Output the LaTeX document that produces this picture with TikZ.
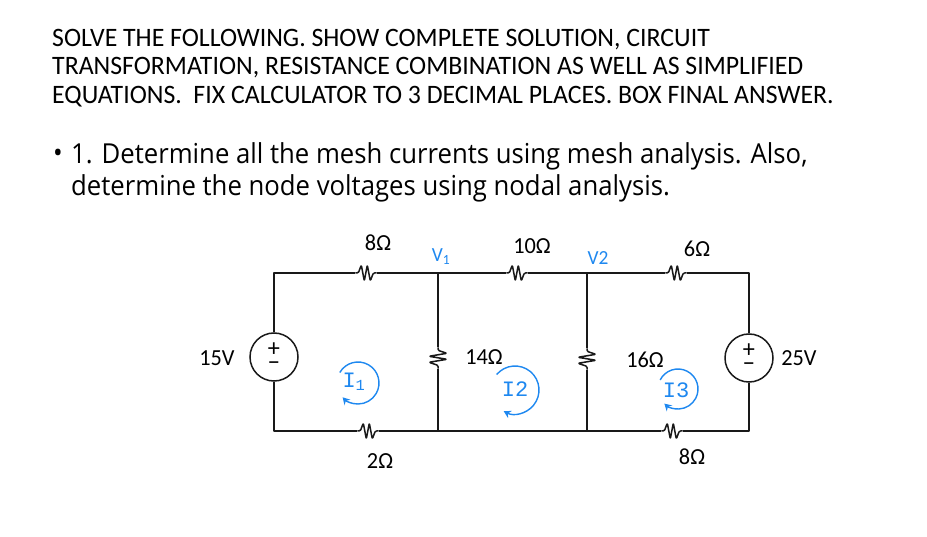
\documentclass[tikz,border=0pt]{standalone}
\usepackage{fontspec}
\setmainfont[FakeStretch=0.97]{Carlito}
\newfontfamily\bodyfont[FakeStretch=0.935]{Open Sans}
\newfontfamily\markfont{Liberation Mono}
\usepackage{tikz}

\definecolor{loopblue}{RGB}{30,136,240}
\tikzset{
	wire/.style={line width=1.5pt, black!90, line join=round},
	res/.style={inner sep=0pt, minimum width=21pt, minimum height=16pt},
	vres/.style={inner sep=0pt, minimum width=16pt, minimum height=21pt},
	source/.style={circle, draw, line width=1.5pt, black!90, text=black, minimum size=48pt, inner sep=0pt, align=center, font=\fontsize{25}{14}\selectfont},
	val/.style={inner sep=0pt, font=\fontsize{23}{23}\selectfont},
	head/.style={anchor=west, inner sep=0pt, font=\fontsize{26.6}{26.6}\selectfont},
	body/.style={anchor=west, inner sep=0pt, font=\bodyfont\fontsize{27.5}{27.5}\selectfont},
	loopcur/.style={line width=1.4pt, loopblue, -{Stealth[length=7pt,width=8pt]}},
	nodelab/.style={inner sep=0pt, text=loopblue, font=\fontsize{20}{20}\selectfont},
	looplab/.style={inner sep=0pt, text=loopblue, font=\markfont\fontsize{22}{22}\selectfont},
}
\usetikzlibrary{arrows.meta}

\begin{document}
\begin{tikzpicture}[x=1pt, y=1pt]
	\useasboundingbox (0,0) rectangle (927,536);
	\fill[white] (0,0) rectangle (927,536);

	\node[head] (line1) at (52,496) {SOLVE THE FOLLOWING. SHOW COMPLETE SOLUTION, CIRCUIT};
	\node[head] (line2) at (52,468) {TRANSFORMATION, RESISTANCE COMBINATION AS WELL AS SIMPLIFIED};
	\node[head] (line3) at (52,439) {EQUATIONS.\ \ FIX CALCULATOR TO 3 DECIMAL PLACES. BOX FINAL ANSWER.};
	\node[body] (bullet) at (53,380) {•};
	\node[body] (task1) at (71,380) {1. Determine all the mesh currents using mesh analysis. Also,};
	\node[body] (task2) at (71,348) {determine the node voltages using nodal analysis.};

	% corners and junctions
	\coordinate (tl) at (274,263);
	\coordinate (bl) at (274,105);
	\coordinate (tr) at (749,263);
	\coordinate (br) at (749,105);
	\coordinate (v1) at (438,263);
	\coordinate (v2) at (587,263);
	\coordinate (b1) at (438,105);
	\coordinate (b2) at (587,105);

	\node[source] (s1) at (274,179) {+\\−};
	\node[source] (s2) at (749,178) {+\\−};

	\foreach \name/\x/\y in {r8/366/263, r10/517/263, r6/676/263, r2/368/105, r8b/672/105}{
		\node[res] (\name) at (\x,\y) {};
		\draw[wire, rounded corners=1.2pt] (\name.west) -- ++(3,0) -- ++(3,8) -- ++(3,-16) -- ++(3,16) -- ++(3,-16) -- ++(3,8) -- (\name.east);
	}
	\foreach \name/\x/\y in {r14/438/178, r16/587/177}{
		\node[vres] (\name) at (\x,\y) {};
		\draw[wire, rounded corners=1.2pt] (\name.north) -- ++(0,-3) -- ++(9,-3) -- ++(-18,-3) -- ++(18,-3) -- ++(-18,-3) -- ++(9,-3) -- (\name.south);
	}

	\draw[wire] (s1) -- (tl) -- (r8) -- (v1) -- (r10) -- (v2) -- (r6) -- (tr) -- (s2);
	\draw[wire] (s1) -- (bl) -- (r2) -- (b1) -- (b2) -- (r8b) -- (br) -- (s2);
	\draw[wire] (v1) -- (r14) -- (b1);
	\draw[wire] (v2) -- (r16) -- (b2);

	\node[val] (l15) at (217,178) {15V};
	\node[val] (l25) at (799,178) {25V};
	\node[val] (l8) at (378,293) {8Ω};
	\node[val] (l10) at (532,290) {10Ω};
	\node[val] (l6) at (697,287) {6Ω};
	\node[val] (l14) at (484,179) {14Ω};
	\node[val] (l16) at (645,176) {16Ω};
	\node[val] (l2) at (380,75) {2Ω};
	\node[val] (l8b) at (692,79) {8Ω};

	\node[nodelab] (nv1) at (441,279) {V\textsubscript{1}};
	\node[nodelab] (nv2) at (598,278) {V2};
	\node[looplab] (i1) at (354,154) {I\textsubscript{1}};
	\node[looplab] (i2) at (515,147) {I2};
	\node[looplab] (i3) at (676,146) {I3};

	\draw[loopcur] (358,153) ++(150:21) arc (150:-137:21);
	\draw[loopcur] (515,146) ++(140:24) arc (140:-118:24);
	\draw[loopcur] (678,147) ++(153:20) arc (153:-133:20);
\end{tikzpicture}
\end{document}
